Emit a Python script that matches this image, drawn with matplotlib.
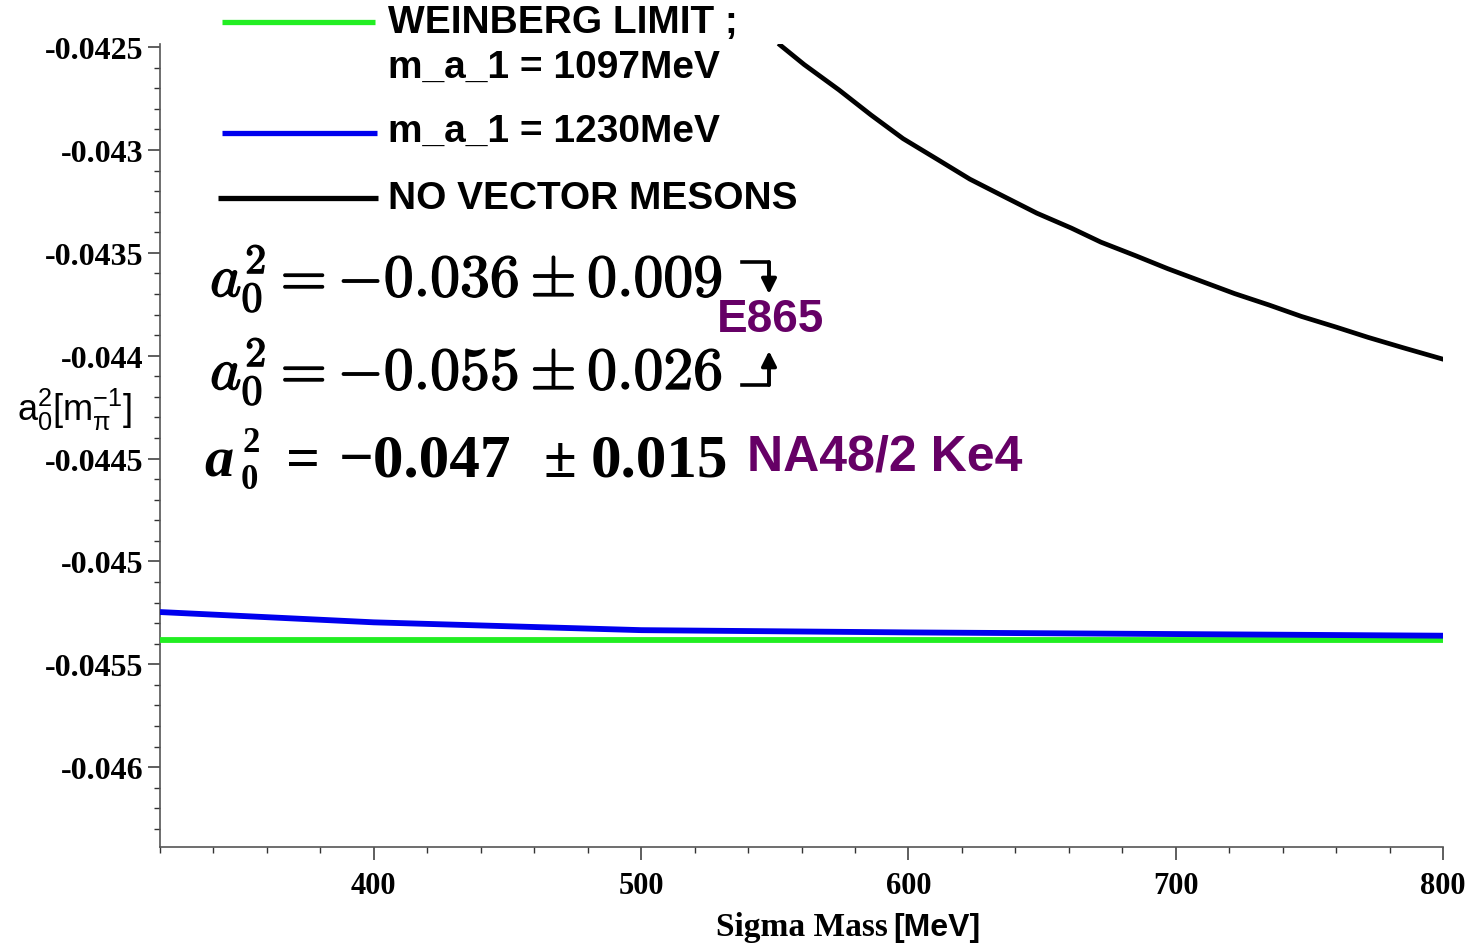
import numpy as np
import matplotlib
matplotlib.use("Agg")
import matplotlib.pyplot as plt
import matplotlib.patheffects as pe
from matplotlib.lines import Line2D
from matplotlib.patches import FancyArrowPatch
from matplotlib.ticker import MultipleLocator

# ------------------------------------------------------------
# data
# ------------------------------------------------------------
no_vector_mass = [552, 561, 574, 586, 598, 611, 623, 636, 648, 661, 672,
                  685, 697, 710, 722, 735, 747, 760, 772, 785, 800]
no_vector_a02 = [-0.042490, -0.042585, -0.042708, -0.042830, -0.042945,
                 -0.043047, -0.043142, -0.043228, -0.043307, -0.043380,
                 -0.043448, -0.043514, -0.043577, -0.043640, -0.043698,
                 -0.043754, -0.043809, -0.043861, -0.043911, -0.043961,
                 -0.044017]

ma1_1230_mass = [320, 400, 500, 600, 700, 800]
ma1_1230_a02 = [-0.045246, -0.045296, -0.045334, -0.045345, -0.045353, -0.045361]

weinberg_mass = [320, 800]
weinberg_a02 = [-0.04538, -0.04538]

xtick_vals = [400, 500, 600, 700, 800]
ytick_vals = [-0.0425, -0.043, -0.0435, -0.044, -0.0445, -0.045, -0.0455, -0.046]
ytick_labels = ["-0.0425", "-0.043", "-0.0435", "-0.044", "-0.0445",
                "-0.045", "-0.0455", "-0.046"]

W, H = 1467, 945
PURPLE = "#660066"
GREEN = "#22ee22"
BLUE = "#0000ee"
SERIF = ["Liberation Serif", "DejaVu Serif"]
SANS = ["Liberation Sans", "DejaVu Sans"]


def px(x, y):
    """pixel position (from top left) -> figure fraction"""
    return x / W, 1 - y / H


fig = plt.figure(figsize=(W / 100, H / 100), dpi=100)
ax = fig.add_axes([160 / W, 1 - 848 / H, (1443 - 160) / W, (848 - 45) / H])

ax.plot(weinberg_mass, weinberg_a02, color=GREEN, lw=4.2, solid_capstyle="butt", zorder=3)
ax.plot(ma1_1230_mass, ma1_1230_a02, color=BLUE, lw=4.2, solid_capstyle="butt", zorder=4)
ax.plot(no_vector_mass, no_vector_a02, color="black", lw=3.4, zorder=5)

ax.set_xlim(320, 800)
ax.set_ylim(-0.046388, -0.042485)

ax.set_xticks(xtick_vals)
ax.set_xticklabels([str(v) for v in xtick_vals])
ax.xaxis.set_minor_locator(MultipleLocator(20))
ax.set_yticks(ytick_vals)
ax.set_yticklabels(ytick_labels)
ax.yaxis.set_minor_locator(MultipleLocator(0.0001))

for s in ["top", "right"]:
    ax.spines[s].set_visible(False)
for s in ["left", "bottom"]:
    ax.spines[s].set_color("#555555")
    ax.spines[s].set_linewidth(1.2)

ax.tick_params(which="major", length=9, width=1.1, color="#333333")
ax.tick_params(which="minor", length=4.5, width=1.0, color="#333333")
ax.tick_params(axis="y", which="major", pad=3)
ax.tick_params(axis="x", which="major", pad=8)
for lab in ax.get_yticklabels():
    lab.set_family(SERIF)
    lab.set_fontweight("bold")
    lab.set_fontsize(23)
for lab in ax.get_xticklabels():
    lab.set_family(SERIF)
    lab.set_fontweight("bold")
    lab.set_fontsize(22)

# axis labels
fig.text(*px(75, 410), r"$\mathregular{a_0^2[m_{\pi}^{-1}]}$", fontsize=26,
         family=SANS, math_fontfamily="dejavusans", ha="center", va="center")
fig.text(*px(716, 928), "Sigma Mass", fontsize=24, family=SERIF, fontweight="bold",
         ha="left", va="center")
fig.text(*px(893, 928), "[MeV]", fontsize=23, family=SANS, fontweight="bold",
         ha="left", va="center")

# hand-made legend above the axes
legend_rows = [
    (GREEN, 222, 375, 23),
    (BLUE, 222, 377, 134),
    ("black", 218, 378, 199),
]
for color, x0, x1, y in legend_rows:
    (fx0, fy), (fx1, _) = px(x0, y), px(x1, y)
    fig.add_artist(Line2D([fx0, fx1], [fy, fy], color=color, lw=3.8,
                          transform=fig.transFigure, solid_capstyle="butt"))
legend_texts = [
    ("WEINBERG LIMIT ;", 23),
    ("m_a_1 = 1097MeV", 68),
    ("m_a_1 = 1230MeV", 132),
    ("NO VECTOR MESONS", 199),
]
for txt, y in legend_texts:
    fig.text(*px(388, y), txt, fontsize=28, family=SANS, fontweight="bold",
             ha="left", va="center")

# experimental values
thick = [pe.withStroke(linewidth=1.0, foreground="black")]
fig.text(*px(210, 297), r"$a_0^2 = -0.036 \pm 0.009$", fontsize=43,
         math_fontfamily="cm", ha="left", va="baseline", path_effects=thick)
fig.text(*px(210, 390), r"$a_0^2 = -0.055 \pm 0.026$", fontsize=43,
         math_fontfamily="cm", ha="left", va="baseline", path_effects=thick)
fig.text(*px(717, 320), "E865", fontsize=33, family=SANS, fontweight="bold",
         color=PURPLE, ha="left", va="center")

b3 = 477
fig.text(*px(204, b3), "a", fontsize=42, family=SERIF, fontweight="bold",
         style="italic", ha="left", va="baseline")
fig.text(*px(243, 452), "2", fontsize=25, family=SERIF, fontweight="bold",
         ha="left", va="baseline")
fig.text(*px(241, 489), "0", fontsize=25, family=SERIF, fontweight="bold",
         ha="left", va="baseline")
for txt, x, fs in [("=", 286, 43), ("\u22120.047", 339, 44), ("\u00b1", 543, 43),
                   ("0.015", 591, 44)]:
    fig.text(*px(x, b3), txt, fontsize=fs, family=SERIF, fontweight="bold",
             ha="left", va="baseline")
fig.text(*px(747, 458), "NA48/2 Ke4", fontsize=36, family=SANS, fontweight="bold",
         color=PURPLE, ha="left", va="center")

# bent arrows pointing to E865
for ys, ye in [(263, 295), (386, 352)]:
    fig.add_artist(Line2D([742 / W, 769 / W, 769 / W],
                          [1 - ys / H, 1 - ys / H, 1 - (ys + ye) / 2 / H],
                          color="black", lw=2.6, transform=fig.transFigure))
    fig.add_artist(FancyArrowPatch(
        px(769, ys), px(769, ye), transform=fig.transFigure,
        arrowstyle="-|>,head_length=6,head_width=3", color="black", lw=2.6,
        shrinkA=0, shrinkB=0, mutation_scale=1.5))

fig.savefig("out.png", dpi=100)
